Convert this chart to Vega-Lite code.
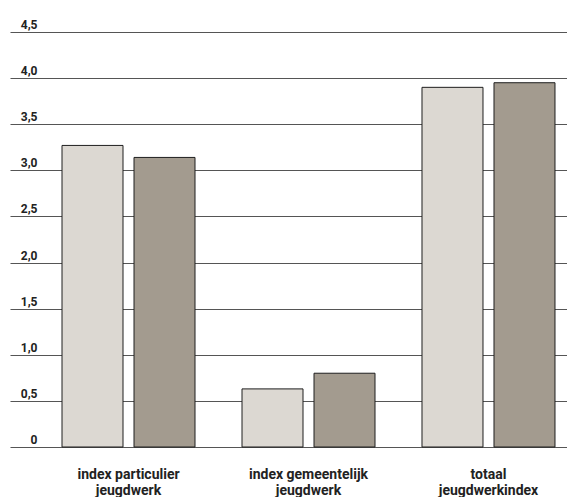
{
  "$schema": "https://vega.github.io/schema/vega-lite/v6.json",
  "width": 557,
  "height": 415,
  "autosize": {"type": "none"},
  "padding": {"left": 10, "top": 32, "right": 0, "bottom": 50},
  "background": "white",
  "config": {"view": {"stroke": null}},
  "data": {
    "values": [
      {"cat": "index particulier|jeugdwerk", "s": "a", "v": 3.27},
      {"cat": "index particulier|jeugdwerk", "s": "b", "v": 3.14},
      {"cat": "index gemeentelijk|jeugdwerk", "s": "a", "v": 0.63},
      {"cat": "index gemeentelijk|jeugdwerk", "s": "b", "v": 0.80},
      {"cat": "totaal|jeugdwerkindex", "s": "a", "v": 3.90},
      {"cat": "totaal|jeugdwerkindex", "s": "b", "v": 3.95}
    ]
  },
  "mark": {"type": "bar", "stroke": "#1e1e1e", "strokeWidth": 1},
  "encoding": {
    "x": {
      "field": "cat",
      "type": "nominal",
      "sort": null,
      "scale": {"paddingInner": 0.2611, "paddingOuter": 0.1778, "align": 0.8125},
      "axis": {
        "title": null,
        "domain": false,
        "ticks": false,
        "labelAngle": 0,
        "labelExpr": "split(datum.label, '|')",
        "labelFont": "Roboto",
        "labelFontWeight": "bold",
        "labelFontSize": 14,
        "labelColor": "#222222",
        "labelPadding": 20,
        "labelLineHeight": 16.5,
        "labelBaseline": "top"
      }
    },
    "xOffset": {
      "field": "s",
      "type": "nominal",
      "scale": {"paddingInner": 0.1528, "paddingOuter": 0}
    },
    "y": {
      "field": "v",
      "type": "quantitative",
      "scale": {"domain": [0, 4.5], "nice": false},
      "axis": {
        "title": null,
        "values": [0, 0.5, 1, 1.5, 2, 2.5, 3, 3.5, 4, 4.5],
        "domain": false,
        "ticks": false,
        "tickSize": 0,
        "labelAlign": "right",
        "labelBaseline": "alphabetic",
        "labelPadding": -27,
        "labelOffset": -3.5,
        "labelOverlap": false,
        "labelBound": false,
        "labelFlush": false,
        "labelFont": "Roboto",
        "labelFontWeight": "bold",
        "labelFontSize": 12,
        "labelColor": "#222222",
        "labelExpr": "datum.value == 0 ? '0' : replace(format(datum.value, '.1f'), '.', ',')",
        "grid": true,
        "gridColor": "#555555",
        "gridWidth": 1.2,
        "gridOpacity": 1
      }
    },
    "color": {
      "field": "s",
      "type": "nominal",
      "scale": {"domain": ["a", "b"], "range": ["#dcd8d2", "#a39b8f"]},
      "legend": null
    }
  }
}
